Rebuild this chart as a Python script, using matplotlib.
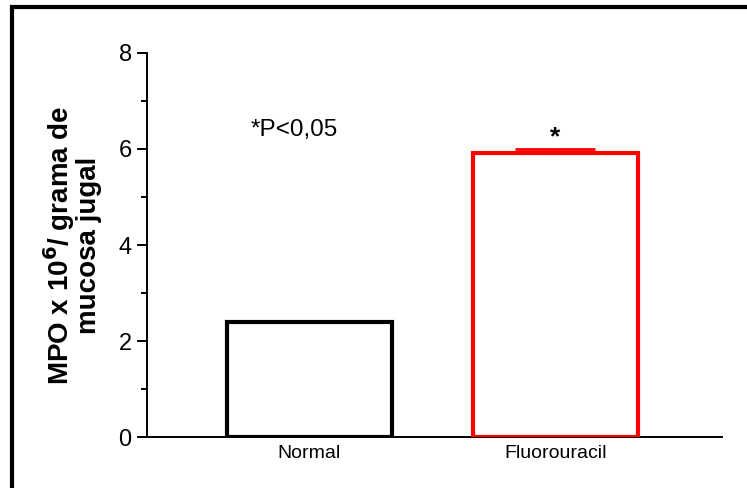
import matplotlib
matplotlib.use("Agg")
import matplotlib.pyplot as plt
from matplotlib.patches import Rectangle
from matplotlib.ticker import MultipleLocator

plt.rcParams['font.family'] = ['Liberation Sans', 'DejaVu Sans']

# data
groups = ["Normal", "Fluorouracil"]
mpo = [2.40, 5.92]
sem_up = [0.0, 0.08]
edge_colors = ["black", "red"]

fig = plt.figure(figsize=(7.47, 4.88), dpi=100)
ax = fig.add_axes([0.1968, 0.1045, 0.9665 - 0.1968, 0.8914 - 0.1045])

x = list(range(len(groups)))
ax.bar(x, mpo, width=0.67, color="white", edgecolor=edge_colors,
       linewidth=3, zorder=3)

# error bar only on the treated group
ax.errorbar(x[1], mpo[1], yerr=[[0], [sem_up[1]]], fmt="none",
            ecolor="red", elinewidth=1.5, capsize=29, capthick=2, zorder=2)

ax.set_xlim(-0.66, 1.677)
ax.set_ylim(0, 8)
ax.yaxis.set_major_locator(MultipleLocator(2))
ax.yaxis.set_minor_locator(MultipleLocator(1))

for s in ["top", "right"]:
    ax.spines[s].set_visible(False)
ax.spines["left"].set_linewidth(1.4)
ax.spines["bottom"].set_linewidth(1.4)

ax.tick_params(axis="y", which="major", length=7, width=1.4, labelsize=17, pad=4)
ax.tick_params(axis="y", which="minor", length=4, width=1.4)
ax.tick_params(axis="x", length=0, labelsize=14, pad=6)
ax.set_xticks(x)
ax.set_xticklabels(groups)

ax.set_ylabel("MPO x 10$^{\\mathbf{6}}$/ grama de\nmucosa jugal",
              fontsize=20, fontweight="bold", labelpad=12, linespacing=0.95)

ax.text(-0.06, 6.4, "*P<0,05", fontsize=17.5, ha="center", va="center")
ax.text(x[1], 6.0, "*", fontsize=19, fontweight="bold",
        ha="center", va="bottom")

# outer frame around the figure
fig.add_artist(Rectangle((12 / 747, -0.1), 1.2, 1.1 - 7 / 488,
                         transform=fig.transFigure, fill=False,
                         edgecolor="black", linewidth=3))

fig.savefig("out.png", dpi=100)
